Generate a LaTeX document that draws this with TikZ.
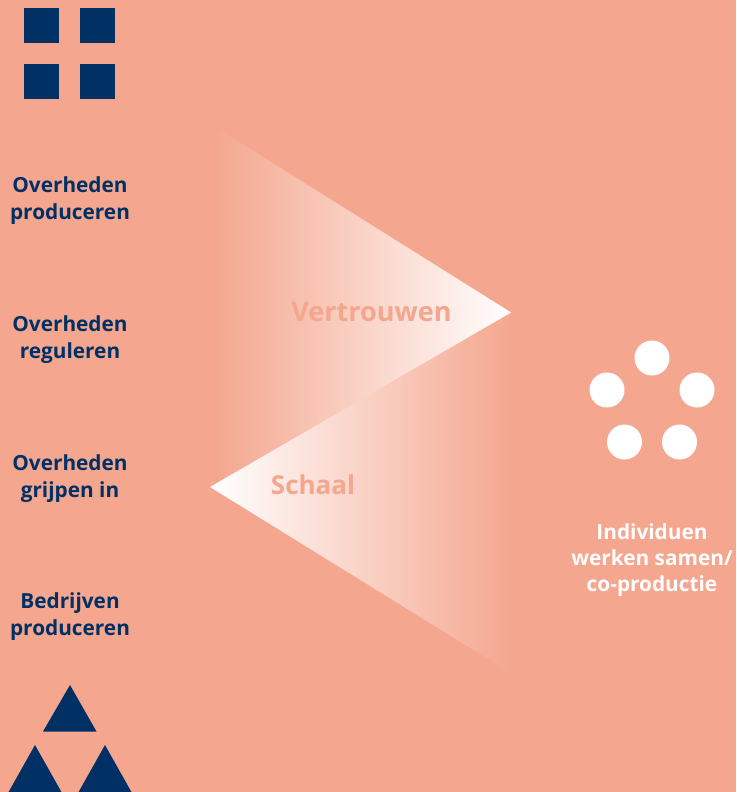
\documentclass[tikz,border=0pt]{standalone}
\usepackage{fontspec}
\setmainfont{Open Sans}
\usepackage{xcolor}
\usetikzlibrary{calc, positioning}
\definecolor{salmon}{RGB}{244,166,142}
\definecolor{navy}{RGB}{0,48,100}

\begin{document}
\begin{tikzpicture}[% styles used in image code
    x = 0.75pt, y = -0.75pt,
 sq/.style = {fill=navy, minimum size=26.25pt,
              inner sep=0pt, outer sep=0pt, node contents={}},
 dot/.style = {circle, fill=white, minimum size=26.25pt,
              inner sep=0pt, outer sep=0pt, node contents={}},
 lbl/.style = {text=navy, align=center, inner sep=0pt,
              font=\fontsize{15.6}{20.2}\selectfont\bfseries},
 wlbl/.style = {lbl, text=white,
              font=\fontsize{15.6}{19.6}\selectfont\bfseries},
 big/.style = {text=salmon, inner sep=0pt,
              font=\fontsize{20.3}{24}\selectfont\bfseries}
                        ]
	% background
	\fill[salmon] (0,0) rectangle (736,792);
	\useasboundingbox (0,0) rectangle (736,792);

	% squares
	\node (s1) at (41.5,25.5) [sq];
	\node (s2) at (97.5,25.5) [sq];
	\node (s3) at (41.5,81.5) [sq];
	\node (s4) at (97.5,81.5) [sq];

	% triangles
	\fill[navy] (70,685) -- (96.5,731.5) -- (43,731.5) -- cycle;
	\fill[navy] (35,745) -- (62,793) -- (8,793) -- cycle;
	\fill[navy] (105,745) -- (132,793) -- (78,793) -- cycle;

	% circles
	\node (c1) at (652,358) [dot];
	\node (c2) at (607,390) [dot];
	\node (c3) at (697,390) [dot];
	\node (c4) at (624.5,442) [dot];
	\node (c5) at (679.5,442) [dot];

	% wedges
	\coordinate (vt) at (512,313);
	\coordinate (va) at (212,125);
	\coordinate (vb) at (212,486);
	\coordinate (st) at (210,487);
	\coordinate (sa) at (514,311);
	\coordinate (sb) at (514,675);
	\shade[left color=salmon, right color=white] (va) -- (vt) -- (vb) -- cycle;
	\shade[left color=white, right color=salmon] (st) -- (sa) -- (sb) -- cycle;

	% labels
	\node (t1) at (70,201) [lbl] {Overheden\\produceren};
	\node (t2) at (70,340) [lbl] {Overheden\\reguleren};
	\node (t3) at (70,478.5) [lbl] {Overheden\\grijpen in};
	\node (t4) at (70,617) [lbl] {Bedrijven\\produceren};
	\node (t5) at (652,560) [wlbl] {Individuen\\werken samen/\\co-productie};
	\node (v) at (371.5,312) [big] {Vertrouwen};
	\node (w) at (313,485) [big, font=\fontsize{19.5}{24}\selectfont\bfseries] {Schaal};
\end{tikzpicture}
\end{document}
